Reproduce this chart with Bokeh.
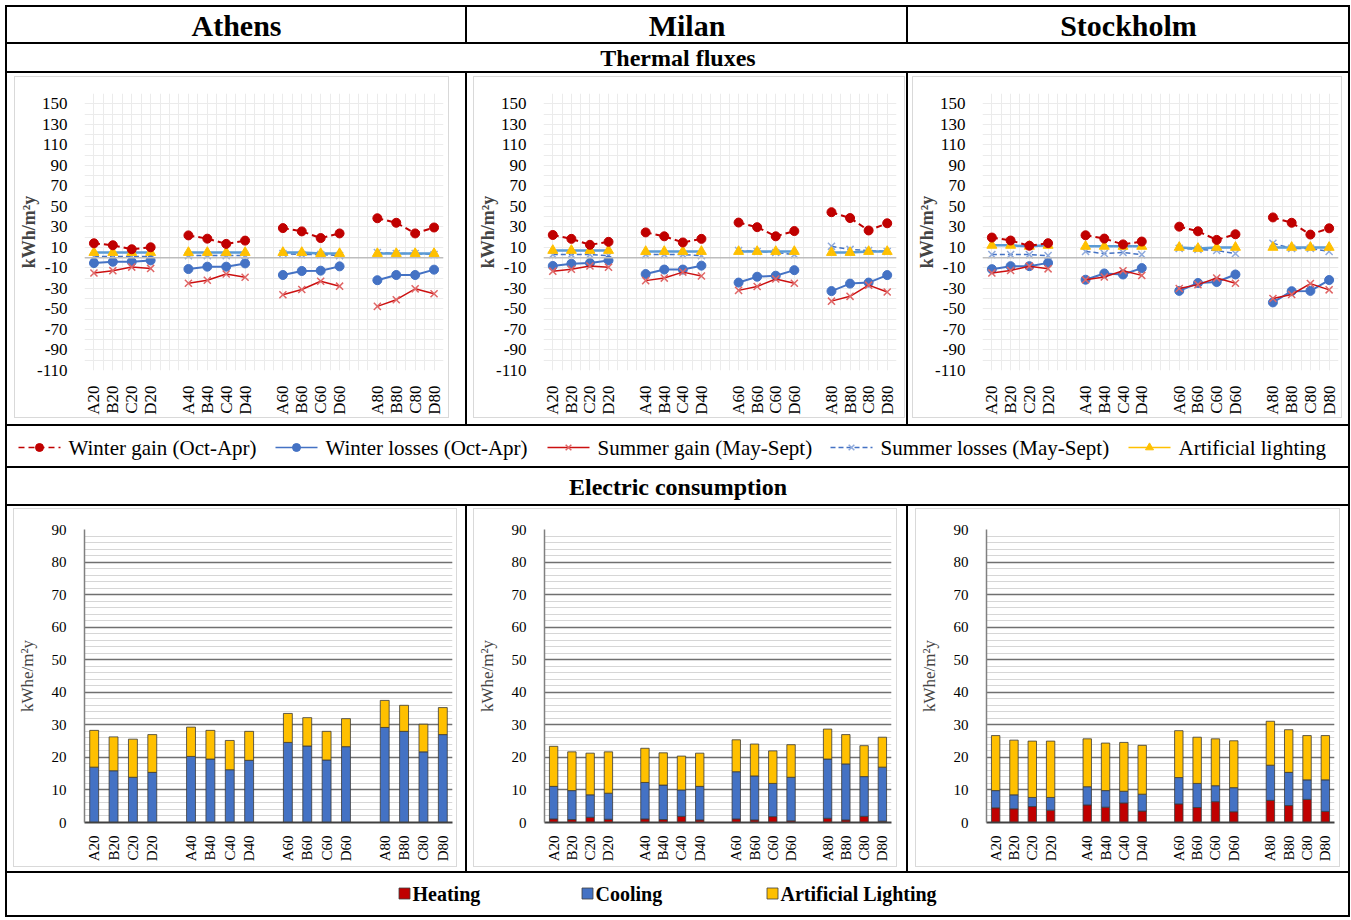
import numpy as np
from bokeh.plotting import figure
from bokeh.layouts import row, column
from bokeh.models import Range1d, FixedTicker, Span, Label, Spacer, ColumnDataSource
from bokeh.embed import file_html
from bokeh.resources import INLINE

# ---------------- data ----------------
categories = ["A20", "B20", "C20", "D20", "",
              "A40", "B40", "C40", "D40", "",
              "A60", "B60", "C60", "D60", "",
              "A80", "B80", "C80", "D80"]
cities = ["Athens", "Milan", "Stockholm"]
thermal_labels = ["Winter gain (Oct-Apr)", "Winter losses (Oct-Apr)",
                  "Summer gain (May-Sept)", "Summer losses (May-Sept)",
                  "Artificial lighting"]
electric_labels = ["Heating", "Cooling", "Artificial Lighting"]
thermal_ticks = list(range(-110, 151, 20))
electric_ticks = list(range(0, 91, 10))

# thermal fluxes, kWh/m2y
athens_winter_gain = [14.0, 12.1, 8.2, 10.1, 21.7, 18.5, 13.4, 16.6, 28.8, 25.6, 19.1, 23.6, 38.4, 34.0, 23.6, 29.4]
athens_winter_losses = [-5.3, -4.0, -4.0, -2.7, -11.1, -8.8, -8.8, -5.6, -16.9, -13.0, -12.7, -8.5, -22.0, -16.9, -16.9, -11.7]
athens_summer_gain = [-15.0, -12.7, -9.2, -10.5, -24.9, -22.0, -15.9, -19.1, -36.2, -31.0, -23.0, -27.8, -47.5, -41.0, -30.4, -35.2]
athens_summer_losses = [1, 1, 1, 1, 2, 2, 2, 2, 4, 3, 3, 2, 5, 4, 4, 3]
athens_lighting = [5, 5, 5, 5, 5, 5, 5, 5, 5, 5, 4, 4, 4, 4, 4, 4]

milan_winter_gain = [22.1, 18.3, 12.5, 15.4, 24.6, 20.8, 14.8, 18.3, 34.2, 29.7, 20.8, 25.9, 44.3, 38.6, 26.5, 33.5]
milan_winter_losses = [-8.1, -5.9, -5.2, -2.7, -16.0, -11.6, -11.6, -7.8, -24.3, -18.6, -17.6, -12.2, -32.6, -25.3, -24.3, -17.0]
milan_summer_gain = [-13.2, -11.3, -8.1, -9.4, -22.4, -19.9, -14.1, -17.9, -31.9, -28.1, -20.8, -24.9, -42.4, -37.7, -26.8, -33.5]
milan_summer_losses = [3, 3, 3, 2, 3, 3, 3, 2, 7, 6, 5, 3, 11, 8, 7, 6]
milan_lighting = [7, 7, 7, 7, 6, 6, 6, 6, 6, 6, 6, 6, 5, 5, 6, 6]

stockholm_winter_gain = [19.6, 16.7, 11.6, 14.1, 21.8, 18.6, 12.9, 15.7, 30.2, 25.7, 17.3, 22.8, 39.2, 34.0, 22.5, 28.6]
stockholm_winter_losses = [-11.2, -8.3, -8.3, -5.1, -21.5, -15.4, -16.4, -10.2, -32.4, -24.7, -23.7, -16.4, -43.6, -32.7, -32.4, -21.8]
stockholm_summer_gain = [-15.0, -12.5, -8.3, -10.9, -21.5, -18.9, -12.8, -17.3, -30.1, -26.3, -19.9, -25.0, -39.8, -35.9, -25.3, -31.4]
stockholm_summer_losses = [3, 3, 3, 2, 6, 4, 5, 3, 9, 8, 7, 4, 14, 9, 9, 6]
stockholm_lighting = [12, 12, 11, 12, 11, 11, 11, 11, 10, 9, 10, 10, 10, 10, 10, 10]

# electric consumption, kWhe/m2y
athens_heating = [0, 0, 0, 0, 0, 0, 0, 0, 0, 0, 0, 0, 0, 0, 0, 0]
athens_cooling = [17.0, 15.9, 13.9, 15.4, 20.3, 19.5, 16.2, 19.1, 24.6, 23.5, 19.2, 23.3, 29.2, 28.0, 21.7, 27.0]
athens_art_lighting = [11.3, 10.4, 11.7, 11.6, 9.0, 8.8, 9.0, 8.9, 8.9, 8.7, 8.8, 8.6, 8.3, 8.0, 8.5, 8.3]

milan_heating = [1.1, 0.9, 1.6, 1.0, 1.1, 0.9, 1.9, 0.8, 1.1, 0.8, 1.8, 0.5, 1.3, 0.8, 1.9, 0.4]
milan_cooling = [10.0, 8.9, 6.9, 8.0, 11.2, 10.6, 8.1, 10.3, 14.5, 13.5, 10.2, 13.4, 18.2, 17.2, 12.2, 16.6]
milan_art_lighting = [12.3, 11.9, 12.8, 12.7, 10.5, 9.9, 10.4, 10.2, 9.8, 9.8, 10.0, 10.0, 9.2, 9.0, 9.5, 9.2]

stockholm_heating = [4.5, 4.2, 4.9, 3.8, 5.4, 4.7, 6.0, 3.5, 5.7, 4.6, 6.4, 3.3, 6.8, 5.2, 7.1, 3.4]
stockholm_cooling = [5.3, 4.3, 2.8, 3.9, 5.6, 5.1, 3.6, 5.2, 8.1, 7.4, 4.9, 7.4, 10.8, 10.2, 6.0, 9.7]
stockholm_art_lighting = [16.9, 16.8, 17.3, 17.3, 14.7, 14.6, 15.0, 15.0, 14.4, 14.2, 14.4, 14.4, 13.5, 13.1, 13.6, 13.6]

thermal = {
    "Athens": [athens_winter_gain, athens_winter_losses, athens_summer_gain, athens_summer_losses, athens_lighting],
    "Milan": [milan_winter_gain, milan_winter_losses, milan_summer_gain, milan_summer_losses, milan_lighting],
    "Stockholm": [stockholm_winter_gain, stockholm_winter_losses, stockholm_summer_gain, stockholm_summer_losses, stockholm_lighting],
}
electric = {
    "Athens": [athens_heating, athens_cooling, athens_art_lighting],
    "Milan": [milan_heating, milan_cooling, milan_art_lighting],
    "Stockholm": [stockholm_heating, stockholm_cooling, stockholm_art_lighting],
}

# ---------------- styles ----------------
FONT = "Liberation Serif"
RED = "#C00000"
BLUE = "#4472C4"
LBLUE = "#5B9BD5"
YEL = "#FFC000"
# line color, dash, marker, marker color, marker size
thermal_style = [
    (RED, "6 4", "circle", RED, 9),
    (BLUE, "solid", "circle", BLUE, 9),
    ("#CC1010", "solid", "x", "#E06666", 10),
    (BLUE, "5 3", "x", "#8FAADC", 10),
    (LBLUE, "solid", "triangle", YEL, 10),
]
legend_line_colors = [RED, BLUE, "#CC1010", BLUE, YEL]
electric_colors = [RED, BLUE, YEL]

xpos = [i for i, c in enumerate(categories) if c]
xlabels = {i: c for i, c in enumerate(categories) if c}
NC = len(categories)


def expand(vals):
    out = np.full(NC, np.nan)
    out[xpos] = vals
    return out


def thermal_fig(city, w, h, mb):
    p = figure(width=w, height=h, x_range=Range1d(-0.5, NC - 0.5), y_range=Range1d(-110, 160),
               output_backend="svg", toolbar_location=None,
               min_border_left=mb[0], min_border_right=mb[1], min_border_top=mb[2], min_border_bottom=mb[3])
    p.outline_line_color = None
    p.xgrid.ticker = FixedTicker(ticks=np.arange(-0.5, NC, 0.5).tolist())
    p.ygrid.ticker = FixedTicker(ticks=list(range(-110, 161, 10)))
    p.grid.grid_line_color = "#EBEBEB"
    p.grid.grid_line_width = 1
    p.yaxis.ticker = FixedTicker(ticks=thermal_ticks)
    p.yaxis.major_label_overrides = {t: str(t) for t in thermal_ticks}
    p.xaxis.ticker = FixedTicker(ticks=xpos)
    p.xaxis.major_label_overrides = xlabels
    p.xaxis.major_label_orientation = np.pi / 2
    for ax in (p.xaxis, p.yaxis):
        ax.axis_line_color = None
        ax.major_tick_line_color = None
        ax.minor_tick_line_color = None
        ax.major_label_text_font = FONT
        ax.major_label_text_font_size = "17px"
        ax.major_label_text_color = "black"
    p.yaxis.major_label_standoff = 11
    p.xaxis.major_label_standoff = 9
    p.yaxis.axis_label = "kWh/m²y"
    p.yaxis.axis_label_text_font = FONT
    p.yaxis.axis_label_text_font_style = "bold"
    p.yaxis.axis_label_text_font_size = "18px"
    p.yaxis.axis_label_standoff = -5
    p.add_layout(Span(location=0, dimension="width", line_color="#BDBDBD", line_width=1.5))
    order = [3, 4, 1, 2, 0]
    for k in order:
        lc, dash, mk, mc, ms = thermal_style[k]
        src = ColumnDataSource(dict(x=np.arange(NC), y=expand(thermal[city][k])))
        p.line("x", "y", source=src, line_color=lc, line_dash=dash,
               line_width=2.5 if k == 4 else (2 if k in (0, 1) else 1.5))
        if mk == "x":
            p.scatter("x", "y", source=src, marker=mk, size=ms, line_color=mc, line_width=1.5)
        else:
            p.scatter("x", "y", source=src, marker=mk, size=ms, fill_color=mc, line_color=mc)
    return p


def electric_fig(city, w, h, mb):
    p = figure(width=w, height=h, x_range=Range1d(-0.5, NC - 0.5), y_range=Range1d(0, 90),
               output_backend="svg", toolbar_location=None,
               min_border_left=mb[0], min_border_right=mb[1], min_border_top=mb[2], min_border_bottom=mb[3])
    p.outline_line_color = None
    p.xgrid.grid_line_color = None
    p.ygrid.ticker = FixedTicker(ticks=electric_ticks, minor_ticks=list(range(0, 91, 2)))
    p.ygrid.grid_line_color = "#707070"
    p.ygrid.grid_line_width = 1.6
    p.ygrid.minor_grid_line_color = "#D6D6D6"
    p.ygrid.minor_grid_line_width = 1
    p.yaxis.ticker = FixedTicker(ticks=electric_ticks)
    p.xaxis.ticker = FixedTicker(ticks=xpos)
    p.xaxis.major_label_overrides = xlabels
    p.xaxis.major_label_orientation = np.pi / 2
    for ax in (p.xaxis, p.yaxis):
        ax.major_tick_line_color = None
        ax.minor_tick_line_color = None
        ax.major_label_text_font = FONT
        ax.major_label_text_color = "black"
    p.yaxis.major_label_text_font_size = "15px"
    p.xaxis.major_label_text_font_size = "15px"
    p.yaxis.axis_line_color = "#808080"
    p.yaxis.axis_line_width = 1.5
    p.xaxis.axis_line_color = "#404040"
    p.xaxis.axis_line_width = 1.8
    p.yaxis.major_label_standoff = 12
    p.xaxis.major_label_standoff = 7
    p.yaxis.axis_label = "kWhe/m²y"
    p.yaxis.axis_label_text_font = FONT
    p.yaxis.axis_label_text_font_style = "normal"
    p.yaxis.axis_label_text_font_size = "17px"
    p.yaxis.axis_label_standoff = 12
    src = ColumnDataSource(dict(x=xpos, heating=electric[city][0], cooling=electric[city][1],
                                lighting=electric[city][2]))
    p.vbar_stack(["heating", "cooling", "lighting"], x="x", width=0.46, source=src,
                 fill_color=electric_colors, line_color="#3A3A3A", line_width=0.8)
    return p


# ---------------- table layout ----------------
C = [458, 439, 440]
LW = 2
W = sum(C) + 4 * LW
IW = W - 2 * LW
H_HEAD, H_T1, H_TH, H_LEG, H_T2, H_BAR, H_LEG2 = 35, 27, 351, 40, 36, 365, 42
GRAY = "#D9D9D9"
OFFSET = 5


def blk(w, h, color="black"):
    return Spacer(width=w, height=h, styles={"background-color": color})


def blank_fig(w, h):
    p = figure(width=w, height=h, x_range=Range1d(0, w), y_range=Range1d(0, h), min_border=0,
               x_axis_location=None, y_axis_location=None, toolbar_location=None, output_backend="svg")
    p.grid.visible = False
    p.outline_line_color = None
    return p


def text_fig(w, h, text, size, style="bold"):
    p = blank_fig(w, h)
    p.add_layout(Label(x=w / 2, y=h / 2, text=text, text_align="center", text_baseline="middle",
                       text_font=FONT, text_font_size=size, text_font_style=style, text_color="black"))
    return p


def boxed(fig, cw, ch, pad):
    pl, pr, pt, pb = pad
    gw, gh = cw - pl - pr, ch - pt - pb
    box = column(blk(gw, 1, GRAY), row(blk(1, gh - 2, GRAY), fig, blk(1, gh - 2, GRAY)), blk(gw, 1, GRAY))
    return column(Spacer(width=cw, height=pt),
                  row(Spacer(width=pl, height=gh), box, Spacer(width=pr, height=gh)),
                  Spacer(width=cw, height=pb))


def three(children, h):
    items = [blk(LW, h)]
    for ch in children:
        items += [ch, blk(LW, h)]
    return row(*items)


def full(child, h):
    return row(blk(LW, h), child, blk(LW, h))


thermal_pads = {"Athens": (7, 16, 3, 6), "Milan": (6, 1, 3, 6), "Stockholm": (4, 6, 3, 6)}
thermal_mb = {"Athens": (61, 5, 16, 44), "Milan": (54, 8, 16, 44), "Stockholm": (58, 3, 16, 44)}
bar_pads = {"Athens": (6, 8, 2, 4), "Milan": (6, 9, 2, 4), "Stockholm": (7, 8, 2, 4)}
bar_mb = {"Athens": (66, 4, 20, 44), "Milan": (63, 5, 20, 44), "Stockholm": (62, 5, 20, 44)}

head_cells = [text_fig(C[i], H_HEAD, cities[i], "30px") for i in range(3)]

th_cells = []
bar_cells = []
for i, city in enumerate(cities):
    pl, pr, pt, pb = thermal_pads[city]
    f = thermal_fig(city, C[i] - pl - pr - 2, H_TH - pt - pb - 2, thermal_mb[city])
    th_cells.append(boxed(f, C[i], H_TH, thermal_pads[city]))
    pl, pr, pt, pb = bar_pads[city]
    f = electric_fig(city, C[i] - pl - pr - 2, H_BAR - pt - pb - 2, bar_mb[city])
    bar_cells.append(boxed(f, C[i], H_BAR, bar_pads[city]))

# thermal legend row
leg1 = blank_fig(IW, H_LEG)
leg1_x = [11, 268, 540, 823, 1121]
yc = 19
for k, x0 in enumerate(leg1_x):
    lc, dash, mk, mc, ms = thermal_style[k]
    leg1.line([x0, x0 + 42], [yc, yc], line_color=legend_line_colors[k], line_dash=dash, line_width=1.5)
    if mk == "x":
        leg1.scatter([x0 + 21], [yc], marker=mk, size=8, line_color=mc, line_width=1.5)
    else:
        leg1.scatter([x0 + 21], [yc], marker=mk, size=8, fill_color=legend_line_colors[k] if k != 4 else YEL,
                     line_color=legend_line_colors[k])
    leg1.add_layout(Label(x=x0 + 50, y=yc, text=thermal_labels[k], text_baseline="middle",
                          text_font=FONT, text_font_size="21px", text_color="black"))

# electric legend row
leg2 = blank_fig(IW, H_LEG2)
leg2_x = [391, 574, 759]
yc2 = 22
for k, x0 in enumerate(leg2_x):
    leg2.scatter([x0 + 6], [yc2], marker="square", size=11, fill_color=electric_colors[k],
                 line_color="#404040", line_width=0.8)
    leg2.add_layout(Label(x=x0 + 14, y=yc2, text=electric_labels[k], text_baseline="middle",
                          text_font=FONT, text_font_size="20px", text_font_style="bold", text_color="black"))

table = column(
    blk(W, LW),
    three(head_cells, H_HEAD),
    blk(W, LW),
    full(text_fig(IW, H_T1, "Thermal fluxes", "24px"), H_T1),
    blk(W, LW),
    three(th_cells, H_TH),
    blk(W, LW),
    full(leg1, H_LEG),
    blk(W, LW),
    full(text_fig(IW, H_T2, "Electric consumption", "24px"), H_T2),
    blk(W, LW),
    three(bar_cells, H_BAR),
    blk(W, LW),
    full(leg2, H_LEG2),
    blk(W, LW),
)

layout = column(Spacer(width=W + OFFSET, height=OFFSET), row(Spacer(width=OFFSET, height=10), table))

open("out.html", "w").write(file_html(layout, INLINE))
